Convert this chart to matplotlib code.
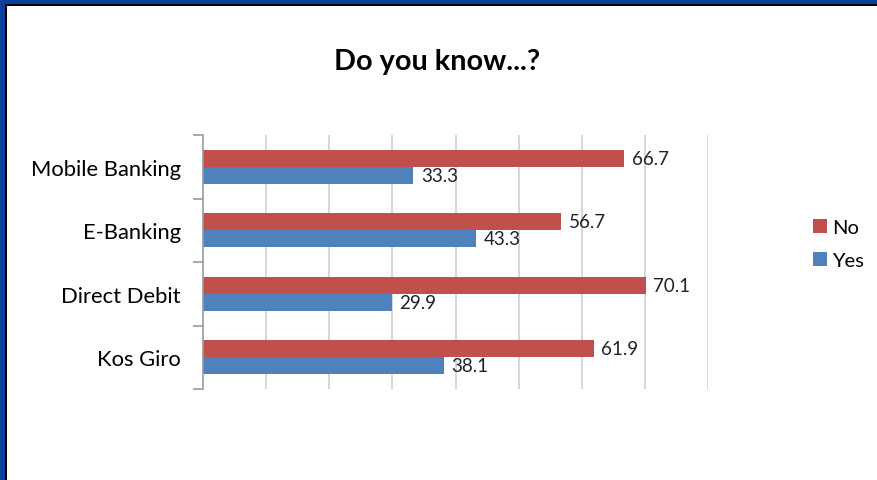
import matplotlib.pyplot as plt
import numpy as np
from matplotlib.patches import Rectangle

# survey results (%), listed bottom to top as drawn
services = ['Kos Giro', 'Direct Debit', 'E-Banking', 'Mobile Banking']
no_values = [61.9, 70.1, 56.7, 66.7]
yes_values = [38.1, 29.9, 43.3, 33.3]

red = '#C0504D'
blue = '#4F81BD'

plt.rcParams['font.family'] = ['Lato', 'DejaVu Sans']

fig = plt.figure(figsize=(8.78, 4.81), dpi=100)
ax = fig.add_axes([203 / 878, 1 - 390 / 481, 505 / 878, 254 / 481])

y = np.arange(len(services))
h = 0.27
ax.barh(y + h / 2, no_values, height=h, color=red, label='No')
ax.barh(y - h / 2, yes_values, height=h, color=blue, label='Yes')

# value labels right of each bar
for yi, v in zip(y, no_values):
    ax.text(v + 1.2, yi + h / 2, f'{v:.1f}', va='center', ha='left', fontsize=13.5, color='#222222')
for yi, v in zip(y, yes_values):
    ax.text(v + 1.2, yi - h / 2, f'{v:.1f}', va='center', ha='left', fontsize=13.5, color='#222222')

ax.set_xlim(0, 80)
ax.set_ylim(-0.5, len(services) - 0.5)
ax.set_xticks(np.arange(10, 81, 10))
ax.set_xticklabels([])
ax.tick_params(axis='x', length=0)
ax.grid(axis='x', color='#cccccc', linewidth=1.1)
ax.set_axisbelow(True)

ax.set_yticks(y)
ax.set_yticklabels(services, fontsize=15.8)
ax.tick_params(axis='y', which='major', length=0, pad=16)
ax.set_yticks(np.arange(-0.5, len(services), 1), minor=True)
ax.tick_params(axis='y', which='minor', length=7, color='#9a9a9a', width=1.2)

for s in ['top', 'right', 'bottom']:
    ax.spines[s].set_visible(False)
ax.spines['left'].set_color('#9a9a9a')
ax.spines['left'].set_linewidth(1.2)

fig.text(437 / 878, 1 - 62 / 481, 'Do you know...?', ha='center', va='center',
         fontsize=20.8, fontweight='bold')

fig.legend(loc='center left', bbox_to_anchor=(805 / 878, 1 - 245 / 481), frameon=False,
           fontsize=14.5, handlelength=0.7, handleheight=0.7, handletextpad=0.25,
           labelspacing=0.75, borderaxespad=0)

# window frame along the top and left edges
fig.add_artist(Rectangle((0, 1 - 5 / 481), 1, 5 / 481, transform=fig.transFigure,
                         color='#0A3F9A', lw=0))
fig.add_artist(Rectangle((0, 1 - 7 / 481), 1, 2 / 481, transform=fig.transFigure,
                         color='black', lw=0))
fig.add_artist(Rectangle((0, 0), 5 / 878, 1, transform=fig.transFigure,
                         color='#0A3F9A', lw=0))
fig.add_artist(Rectangle((5 / 878, 0), 2 / 878, 1 - 5 / 481, transform=fig.transFigure,
                         color='black', lw=0))

fig.savefig('out.png', dpi=100)
